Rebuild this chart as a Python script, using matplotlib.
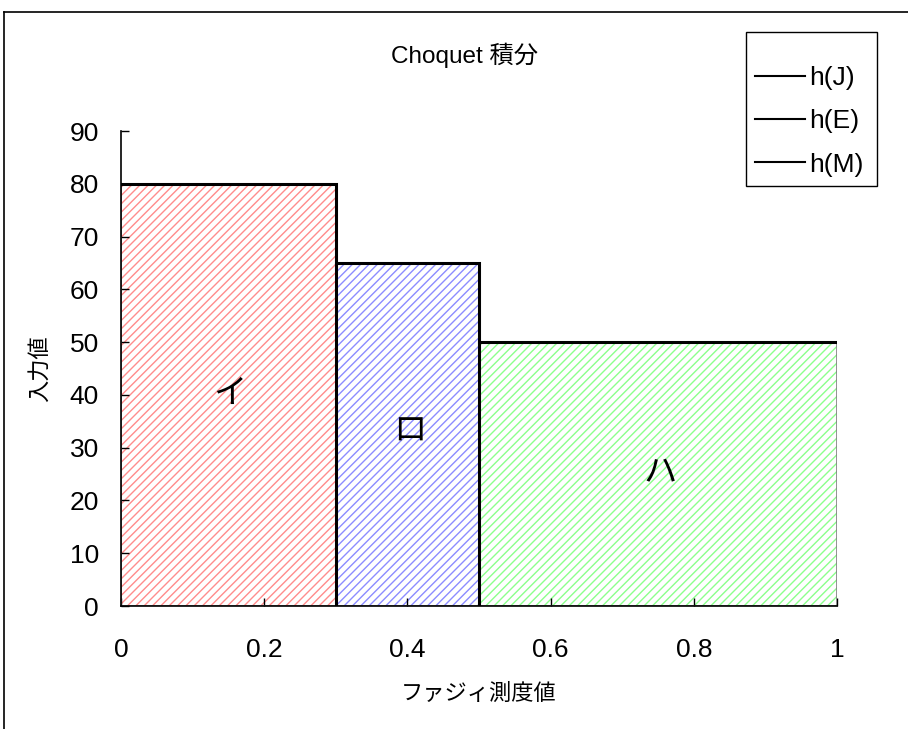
import matplotlib

matplotlib.use("Agg")
import matplotlib.pyplot as plt
from matplotlib.lines import Line2D
from matplotlib.patches import Rectangle

plt.rcParams["font.family"] = ["Liberation Sans", "Noto Sans CJK JP", "DejaVu Sans"]
plt.rcParams["hatch.linewidth"] = 1.0

# fuzzy measure breakpoints and the sorted input values h(.)
edges = [0.0, 0.3, 0.5, 1.0]
heights = [80, 65, 50]
series = ["h(J)", "h(E)", "h(M)"]
region_labels = ["イ", "ロ", "ハ"]
label_pos = [(0.152, 40), (0.404, 33), (0.753, 25)]
hatch_colors = ["#ff8c8c", "#8c8cff", "#8cff8c"]

yticks = list(range(0, 100, 10))
xticks = [0, 0.2, 0.4, 0.6, 0.8, 1]
xticklabels = ["0", "0.2", "0.4", "0.6", "0.8", "1"]

fig = plt.figure(figsize=(9.08, 7.29), dpi=100)
ax = fig.add_axes([0.1333, 0.1687, 0.7885, 0.6516])

lefts = edges[:-1]
widths = [b - a for a, b in zip(edges[:-1], edges[1:])]

# hatched fill, then a thin grey outline on top
for x0, w, h, c in zip(lefts, widths, heights, hatch_colors):
    ax.bar(x0, h, width=w, align="edge", color="white", edgecolor=c,
           hatch="////", linewidth=0, zorder=1)
    ax.bar(x0, h, width=w, align="edge", fill=False, edgecolor="#808080",
           linewidth=1.2, zorder=2)

# step lines for each input value: top edge, then drop to zero
for i, (x0, x1, h, name) in enumerate(zip(edges[:-1], edges[1:], heights, series)):
    if i < len(heights) - 1:
        xs, ys = [x0, x1, x1], [h, h, 0]
    else:
        xs, ys = [x0, x1], [h, h]
    ax.plot(xs, ys, color="black", linewidth=2.2, label=name, zorder=3,
            solid_joinstyle="miter")

for txt, (x, y) in zip(region_labels, label_pos):
    ax.text(x, y, txt, fontsize=24, ha="center", va="center", zorder=4)

ax.set_xlim(0, 1)
ax.set_ylim(0, 90)
ax.set_xticks(xticks)
ax.set_xticklabels(xticklabels)
ax.set_yticks(yticks)
ax.tick_params(direction="in", length=6, width=1, labelsize=19)
ax.tick_params(axis="x", pad=23)
ax.tick_params(axis="y", pad=16)
for side in ("top", "right"):
    ax.spines[side].set_visible(False)
for side in ("left", "bottom"):
    ax.spines[side].set_linewidth(1.2)

ax.set_xlabel("ファジィ測度値", fontsize=16, labelpad=16)
ax.set_ylabel("入力値", fontsize=16, labelpad=13)
fig.text(0.512, 0.924, "Choquet 積分", fontsize=17.5, ha="center", va="center")

# legend box drawn separately so the entries can sit low in it
fig.add_artist(Rectangle((746 / 908, 1 - 186 / 729), 131 / 908, 154 / 729,
                         fill=False, edgecolor="black", linewidth=1.0,
                         transform=fig.transFigure))
handles = [Line2D([], [], color="black", linewidth=1.5) for _ in series]
fig.legend(handles, series, loc="upper left",
           bbox_to_anchor=(755 / 908, 1 - 66 / 729), fontsize=19,
           frameon=False, handlelength=1.9, handletextpad=0.15,
           labelspacing=0.73, borderpad=0, borderaxespad=0)

# outer chart-area frame
fig.add_artist(Line2D([4 / 908, 4 / 908], [0, 1 - 12 / 729], color="black",
                      linewidth=1.2, transform=fig.transFigure))
fig.add_artist(Line2D([4 / 908, 1], [1 - 12 / 729, 1 - 12 / 729], color="black",
                      linewidth=1.2, transform=fig.transFigure))

fig.savefig("out.png", dpi=100)
